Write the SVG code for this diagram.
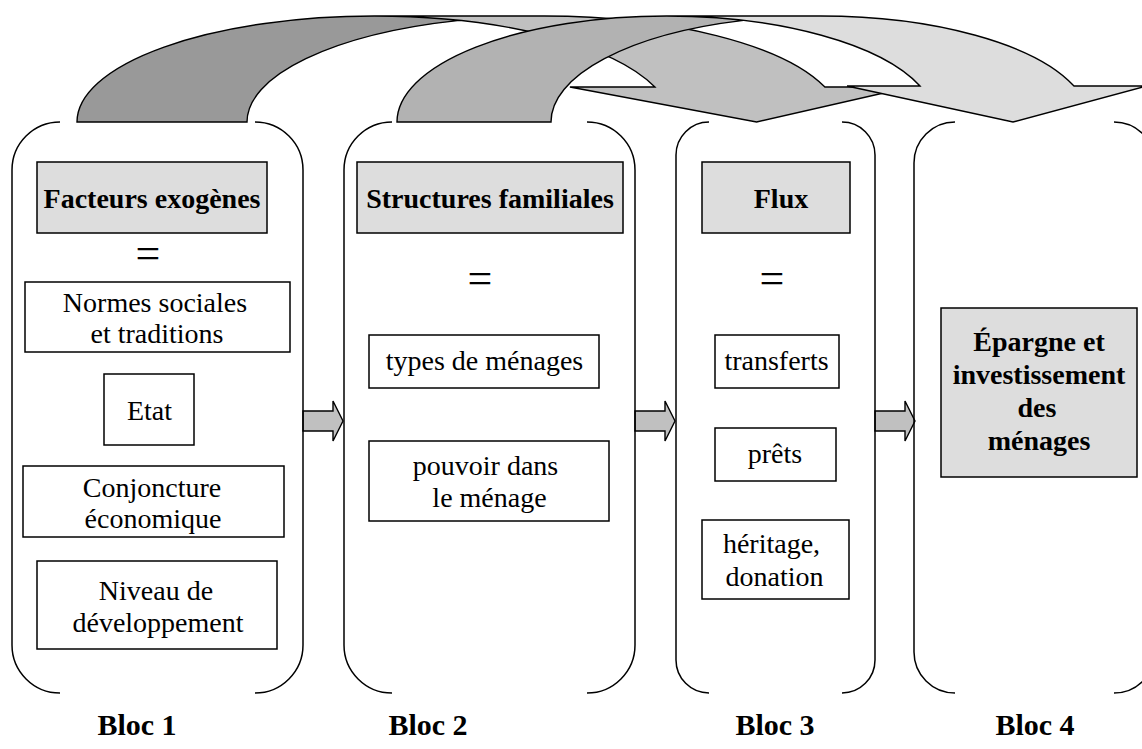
<svg xmlns="http://www.w3.org/2000/svg" width="1142" height="749" viewBox="0 0 1142 749">
  <style>
    .bracket { fill: none; stroke: #000; stroke-width: 1.5; }
    .box { fill: #fff; stroke: #000; stroke-width: 1.5; }
    .head { fill: #dddddd; stroke: #000; stroke-width: 1.5; }
    .outline { fill: none; stroke: #000; stroke-width: 1.4; stroke-linejoin: miter; }
    .step { fill: #c0c0c0; stroke: #000; stroke-width: 1.4; }
    text { font-family: "Liberation Serif", "Times New Roman", serif; font-size: 28px; fill: #000; text-anchor: middle; }
    .b { font-weight: bold; }
    .eq { font-size: 44px; }
    .lbl { font-weight: bold; font-size: 30px; }
  </style>

  <!-- curved arrows linking the blocks over the top -->
  <g id="connectors">
    <g id="curve-bloc1-bloc3">
      <path d="M756.6,122 L569.9,87 L654.9,87 A297.3,106 0 0 0 374.3,16 L544.3,16 A297.3,106 0 0 1 824.9,87 L909.9,87 Z" fill="#c0c0c0"/>
      <path d="M459.3,20.4 A297.3,106 0 0 0 247,122 L77,122 A297.3,106 0 0 1 459.3,20.4 Z" fill="#999999"/>
      <path class="outline" d="M459.3,20.4 A297.3,106 0 0 0 247,122 L77,122 A297.3,106 0 0 1 374.3,16 L544.3,16 A297.3,106 0 0 1 824.9,87 L909.9,87 L756.6,122 L569.9,87 L654.9,87 A297.3,106 0 0 0 374.3,16"/>
    </g>
    <g id="curve-bloc2-bloc4">
      <path d="M1013,122 L847,86 L920,86 A269.5,106 0 0 0 666.5,16 L820.5,16 A269.5,106 0 0 1 1074,86 L1147,86 Z" fill="#dddddd"/>
      <path d="M743.5,20.4 A269.5,106 0 0 0 551,122 L397,122 A269.5,106 0 0 1 743.5,20.4 Z" fill="#b2b2b2"/>
      <path class="outline" d="M743.5,20.4 A269.5,106 0 0 0 551,122 L397,122 A269.5,106 0 0 1 666.5,16 L820.5,16 A269.5,106 0 0 1 1074,86 L1147,86 L1013,122 L847,86 L920,86 A269.5,106 0 0 0 666.5,16"/>
    </g>
    <!-- block arrows between neighbouring blocks -->
    <polygon class="step" points="303,411 333,411 333,401 343,421 333,441 333,431 303,431"/>
    <polygon class="step" points="635,411 665,411 665,401 675,421 665,441 665,431 635,431"/>
    <polygon class="step" points="875,411 905,411 905,401 915,421 905,441 905,431 875,431"/>
  </g>

  <!-- Bloc 1 -->
  <g id="bloc1">
    <path class="bracket" d="M60,122 A48,48 0 0 0 12,170 L12,645 A48,48 0 0 0 60,693"/>
    <path class="bracket" d="M255,122 A48,48 0 0 1 303,170 L303,645 A48,48 0 0 1 255,693"/>
    <rect class="head" x="37" y="162" width="230" height="71"/>
    <text class="b" x="152" y="208">Facteurs exogènes</text>
    <text class="eq" x="148" y="268">=</text>
    <rect class="box" x="25" y="282" width="265" height="70"/>
    <text x="155" y="312">Normes sociales</text>
    <text x="157" y="343">et traditions</text>
    <rect class="box" x="104" y="374" width="90" height="71"/>
    <text x="149.5" y="420">Etat</text>
    <rect class="box" x="23" y="466" width="261" height="71"/>
    <text x="152" y="497">Conjoncture</text>
    <text x="153" y="528">économique</text>
    <rect class="box" x="37" y="561" width="240" height="88"/>
    <text x="156" y="600">Niveau de</text>
    <text x="158" y="632">développement</text>
    <text class="lbl" x="137" y="735">Bloc 1</text>
  </g>

  <!-- Bloc 2 -->
  <g id="bloc2">
    <path class="bracket" d="M392,122 A48,48 0 0 0 344,170 L344,645 A48,48 0 0 0 392,693"/>
    <path class="bracket" d="M587,122 A48,48 0 0 1 635,170 L635,645 A48,48 0 0 1 587,693"/>
    <rect class="head" x="357" y="162" width="266" height="71"/>
    <text class="b" x="490" y="208">Structures familiales</text>
    <text class="eq" x="480" y="293">=</text>
    <rect class="box" x="369" y="335" width="230" height="53"/>
    <text x="484.5" y="370">types de ménages</text>
    <rect class="box" x="369" y="441" width="240" height="80"/>
    <text x="485.5" y="475">pouvoir dans</text>
    <text x="489.5" y="507">le ménage</text>
    <text class="lbl" x="428" y="735">Bloc 2</text>
  </g>

  <!-- Bloc 3 -->
  <g id="bloc3">
    <path class="bracket" d="M709,122 A33,33 0 0 0 676,155 L676,660 A33,33 0 0 0 709,693"/>
    <path class="bracket" d="M842,122 A33,33 0 0 1 875,155 L875,660 A33,33 0 0 1 842,693"/>
    <rect class="head" x="702" y="162" width="148" height="71"/>
    <text class="b" x="781" y="208">Flux</text>
    <text class="eq" x="772" y="293">=</text>
    <rect class="box" x="715" y="335" width="124" height="53"/>
    <text x="776.5" y="370">transferts</text>
    <rect class="box" x="715" y="428" width="121" height="53"/>
    <text x="775" y="463">prêts</text>
    <rect class="box" x="702" y="520" width="147" height="79"/>
    <text x="771.5" y="553">héritage,</text>
    <text x="774.5" y="586">donation</text>
    <text class="lbl" x="775" y="735">Bloc 3</text>
  </g>

  <!-- Bloc 4 -->
  <g id="bloc4">
    <path class="bracket" d="M955,122 A41,41 0 0 0 914,163 L914,652 A41,41 0 0 0 955,693"/>
    <path class="bracket" d="M1114,122 A41,41 0 0 1 1155,163 L1155,652 A41,41 0 0 1 1114,693"/>
    <rect class="head" x="941" y="308" width="196" height="169"/>
    <text class="b" x="1039" y="351">Épargne et</text>
    <text class="b" x="1039" y="384">investissement</text>
    <text class="b" x="1037" y="417">des</text>
    <text class="b" x="1039" y="450">ménages</text>
    <text class="lbl" x="1035" y="735">Bloc 4</text>
  </g>
</svg>
